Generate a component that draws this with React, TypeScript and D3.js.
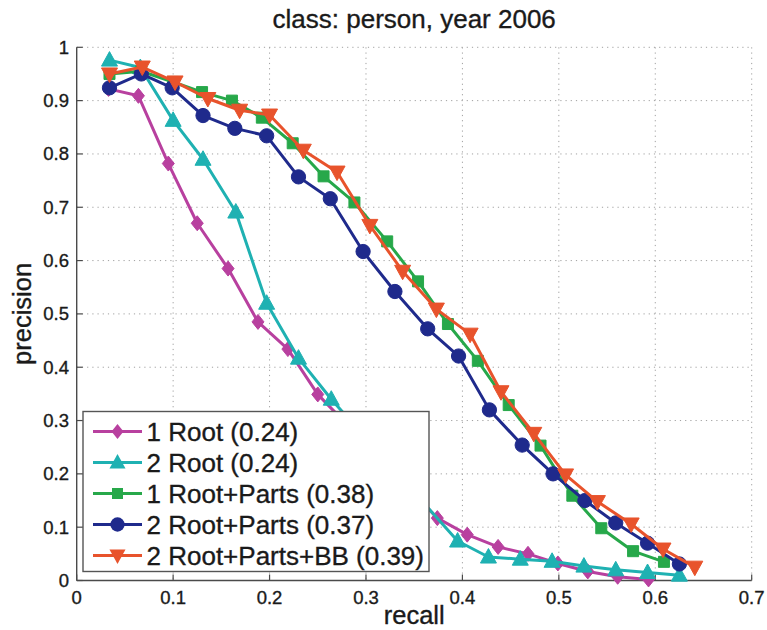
import React from "react";
import * as d3 from "d3";

const W = 767;
const H = 630;

const xTicks = [0, 0.1, 0.2, 0.3, 0.4, 0.5, 0.6, 0.7];
const yTicks = [0, 0.1, 0.2, 0.3, 0.4, 0.5, 0.6, 0.7, 0.8, 0.9, 1];

const title = "class: person, year 2006";
const xLabel = "recall";
const yLabel = "precision";

const root1Recall = [0.033, 0.064, 0.095, 0.125, 0.157, 0.188, 0.219, 0.25, 0.374, 0.405, 0.437, 0.468, 0.499, 0.53, 0.561, 0.593];
const root1Prec = [0.922, 0.909, 0.782, 0.67, 0.585, 0.485, 0.434, 0.349, 0.117, 0.086, 0.063, 0.05, 0.032, 0.017, 0.007, 0.002];

const root2Recall = [0.034, 0.066, 0.1, 0.131, 0.165, 0.197, 0.23, 0.264, 0.395, 0.427, 0.46, 0.493, 0.526, 0.559, 0.592, 0.625];
const root2Prec = [0.976, 0.962, 0.863, 0.79, 0.691, 0.52, 0.417, 0.34, 0.074, 0.044, 0.04, 0.036, 0.027, 0.02, 0.015, 0.01];

const parts1Recall = [0.034, 0.067, 0.1, 0.13, 0.161, 0.192, 0.224, 0.256, 0.288, 0.322, 0.354, 0.385, 0.416, 0.448, 0.481, 0.514, 0.544, 0.577, 0.609];
const parts1Prec = [0.95, 0.955, 0.935, 0.916, 0.9, 0.868, 0.82, 0.758, 0.709, 0.636, 0.561, 0.481, 0.412, 0.329, 0.253, 0.159, 0.098, 0.055, 0.035];

const parts2Recall = [0.034, 0.067, 0.099, 0.131, 0.164, 0.197, 0.23, 0.263, 0.297, 0.33, 0.364, 0.396, 0.428, 0.462, 0.494, 0.527, 0.559, 0.592, 0.625];
const parts2Prec = [0.924, 0.95, 0.924, 0.872, 0.848, 0.834, 0.757, 0.716, 0.617, 0.542, 0.472, 0.421, 0.32, 0.254, 0.2, 0.15, 0.108, 0.07, 0.031];

const bbRecall = [0.034, 0.068, 0.102, 0.136, 0.169, 0.2, 0.235, 0.27, 0.304, 0.338, 0.373, 0.408, 0.44, 0.474, 0.507, 0.54, 0.575, 0.608, 0.641];
const bbPrec = [0.95, 0.963, 0.935, 0.904, 0.882, 0.873, 0.807, 0.766, 0.666, 0.58, 0.509, 0.462, 0.354, 0.276, 0.198, 0.148, 0.106, 0.059, 0.025];

const seriesNames = ["1 Root (0.24)", "2 Root (0.24)", "1 Root+Parts (0.38)", "2 Root+Parts (0.37)", "2 Root+Parts+BB (0.39)"];
const seriesColors = ["#b8409f", "#1fb1b2", "#27a84a", "#1f2a8c", "#e8532c"];
const seriesMarkers = ["diamond", "triangleUp", "square", "circle", "triangleDown"];
const seriesRecall = [root1Recall, root2Recall, parts1Recall, parts2Recall, bbRecall];
const seriesPrec = [root1Prec, root2Prec, parts1Prec, parts2Prec, bbPrec];

const FONT = "'Liberation Sans', Arial, Helvetica, sans-serif";

function markerPath(kind: string): string {
  switch (kind) {
    case "diamond":
      return "M0,-7.5L6,0L0,7.5L-6,0Z";
    case "triangleUp":
      return "M0,-8.5L8,6L-8,6Z";
    case "triangleDown":
      return "M0,8.5L8,-6L-8,-6Z";
    case "square":
      return "M-5.5,-5.5L5.5,-5.5L5.5,5.5L-5.5,5.5Z";
    default:
      return d3.symbol().type(d3.symbolCircle).size(160)() || "";
  }
}

export default function App() {
  const left = 76.7;
  const right = 751.7;
  const top = 47.3;
  const bottom = 580.5;
  const x = d3.scaleLinear().domain([0, 0.7]).range([left, right]);
  const y = d3.scaleLinear().domain([0, 1]).range([bottom, top]);
  const line = d3
    .line<[number, number]>()
    .x((d) => x(d[0]))
    .y((d) => y(d[1]));

  const legX = 83;
  const legY = 411.5;
  const legW = 346;
  const legH = 160;
  const rowH = 31;

  const textStyle = { fontFamily: FONT, fill: "#1a1a1a", stroke: "#1a1a1a", strokeWidth: 0.35 };

  return (
    <svg width={W} height={H} style={{ display: "block", position: "absolute", left: 0, top: 0, background: "#fff" }}>
      <rect x={0} y={0} width={W} height={H} fill="#fff" />
      {/* grid */}
      {xTicks.slice(1).map((t) => (
        <line key={"gx" + t} x1={x(t)} x2={x(t)} y1={top} y2={bottom} stroke="#a0a0a0" strokeWidth={1} strokeDasharray="1.2,4" />
      ))}
      {yTicks.slice(1).map((t) => (
        <line key={"gy" + t} x1={left} x2={right} y1={y(t)} y2={y(t)} stroke="#a0a0a0" strokeWidth={1} strokeDasharray="1.2,4" />
      ))}
      {/* axes */}
      <line x1={left} x2={left} y1={top} y2={bottom} stroke="#4a4a4a" strokeWidth={1.4} />
      <line x1={left} x2={right} y1={bottom} y2={bottom} stroke="#4a4a4a" strokeWidth={1.4} />
      {xTicks.map((t) => (
        <g key={"xt" + t}>
          <line x1={x(t)} x2={x(t)} y1={bottom} y2={bottom - 6} stroke="#4a4a4a" strokeWidth={1.2} />
          <text x={x(t)} y={603.5} textAnchor="middle" fontSize={18.5} {...textStyle}>
            {String(t)}
          </text>
        </g>
      ))}
      {yTicks.map((t) => (
        <g key={"yt" + t}>
          <line x1={left} x2={left + 6} y1={y(t)} y2={y(t)} stroke="#4a4a4a" strokeWidth={1.2} />
          <text x={69} y={y(t) + 6.5} textAnchor="end" fontSize={18.5} {...textStyle}>
            {String(t)}
          </text>
        </g>
      ))}
      {/* series */}
      {seriesNames.map((name, i) => {
        const pts: [number, number][] = seriesRecall[i].map((r, j) => [r, seriesPrec[i][j]]);
        const mp = markerPath(seriesMarkers[i]);
        return (
          <g key={name}>
            <path d={line(pts) || ""} fill="none" stroke={seriesColors[i]} strokeWidth={3} strokeLinejoin="round" />
            {pts.map((p, j) => (
              <path key={j} d={mp} transform={`translate(${x(p[0])},${y(p[1])})`} fill={seriesColors[i]} stroke={seriesColors[i]} strokeWidth={1} />
            ))}
          </g>
        );
      })}
      {/* legend */}
      <rect x={legX} y={legY} width={legW} height={legH} fill="#fff" stroke="#555" strokeWidth={1.4} />
      {seriesNames.map((name, i) => {
        const cy = legY + 20 + i * rowH;
        return (
          <g key={"leg" + name}>
            <line x1={93} x2={142} y1={cy} y2={cy} stroke={seriesColors[i]} strokeWidth={3} />
            <path d={markerPath(seriesMarkers[i])} transform={`translate(117.5,${cy})`} fill={seriesColors[i]} />
            <text x={146.5} y={cy + 9.5} fontSize={26} {...textStyle}>
              {name}
            </text>
          </g>
        );
      })}
      {/* titles */}
      <text x={(left + right) / 2} y={28} textAnchor="middle" fontSize={26} {...textStyle}>
        {title}
      </text>
      <text x={(left + right) / 2} y={624} textAnchor="middle" fontSize={25.5} {...textStyle}>
        {xLabel}
      </text>
      <text transform={`translate(31,${(top + bottom) / 2}) rotate(-90)`} textAnchor="middle" fontSize={25.5} {...textStyle}>
        {yLabel}
      </text>
    </svg>
  );
}
